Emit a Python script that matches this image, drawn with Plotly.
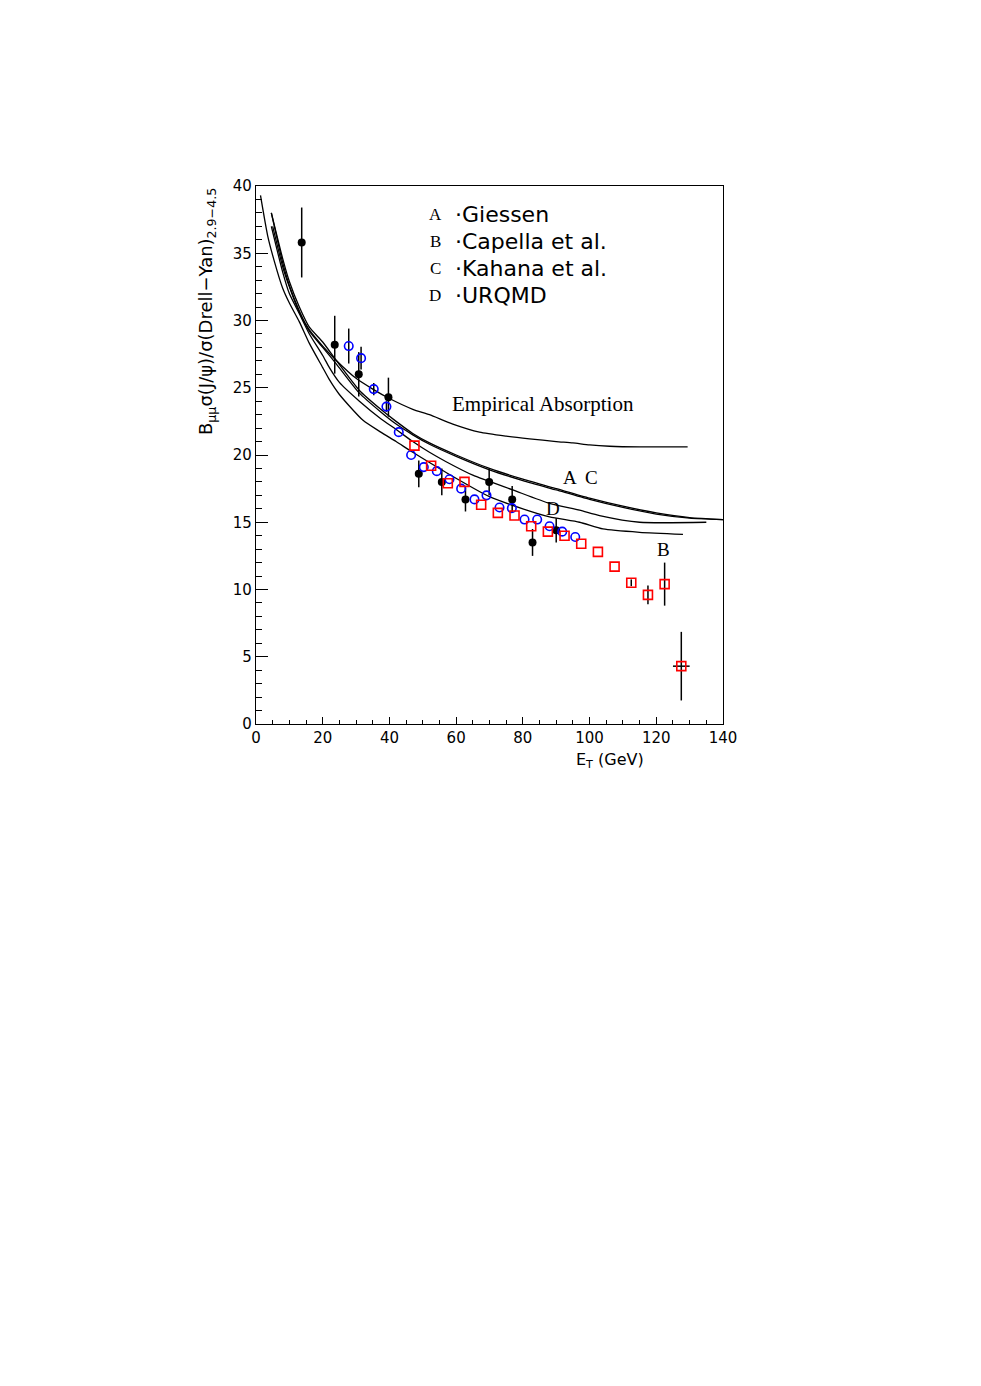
import plotly.graph_objects as go

# ---------------- data ----------------
black_x = [13.7, 23.6, 30.8, 39.7, 48.8, 55.7, 62.8, 69.9, 76.8, 82.9, 90.0]
black_y = [35.8, 28.2, 26.0, 24.3, 18.6, 18.0, 16.7, 18.0, 16.7, 13.5, 14.4]
black_err = [2.6, 2.15, 1.65, 1.45, 1.0, 1.0, 0.9, 1.0, 1.0, 1.0, 0.9]

blue_x = [27.8, 31.5, 35.3, 39.1, 42.8, 46.5, 50.3, 54.2, 58.0, 61.5, 65.5, 69.1,
          73.0, 76.7, 80.5, 84.3, 88.0, 91.8, 95.7]
blue_y = [28.1, 27.2, 24.9, 23.6, 21.7, 20.0, 19.1, 18.8, 18.2, 17.5, 16.7, 17.0,
          16.1, 16.05, 15.2, 15.2, 14.7, 14.3, 13.9]
blue_err = [1.3, 0.85, 0.45, 0.4, 0, 0, 0, 0, 0, 0, 0, 0,
            0, 0, 0, 0, 0, 0, 0]

red_x = [47.5, 52.5, 57.5, 62.5, 67.5, 72.5, 77.5, 82.5, 87.5, 92.5, 97.5, 102.5,
         107.5, 112.5, 117.5, 122.5, 127.5]
red_y = [20.7, 19.2, 17.9, 18.0, 16.3, 15.7, 15.5, 14.7, 14.3, 14.0, 13.4, 12.8,
         11.7, 10.5, 9.6, 10.4, 4.3]
red_err = [0, 0, 0, 0, 0, 0, 0, 0, 0, 0, 0, 0,
           0, 0.25, 0.7, 1.6, 2.55]
red_xerr = [0, 0, 0, 0, 0, 0, 0, 0, 0, 0, 0, 0, 0, 0, 0, 0, 2.5]

emp_x = [5, 8, 10, 13, 16, 20, 24, 30, 35, 40, 47, 52, 59, 67, 75, 82, 90, 95, 100, 106, 115, 129.4]
emp_y = [37.0, 34.0, 32.5, 30.6, 29.3, 28.1, 27.05, 25.7, 24.9, 24.2, 23.4, 23.0, 22.3, 21.7,
         21.4, 21.2, 21.0, 20.9, 20.75, 20.65, 20.6, 20.6]

a_x = [4.6, 8, 10, 13, 16, 20, 24, 31, 37.4, 42, 47, 52, 60, 70, 80, 90, 100, 110, 120, 130, 140]
a_y = [38.0, 34.6, 32.9, 31.0, 29.5, 28.4, 27.05, 24.8, 23.4, 22.5, 21.6, 20.9, 20.0, 19.0,
       18.2, 17.5, 16.8, 16.2, 15.7, 15.35, 15.2]

c_x = [4.6, 8, 10, 13, 16, 20, 24, 31, 37.4, 42, 47, 52, 60, 70, 80, 90, 100, 110, 120, 130, 140]
c_y = [38.0, 34.3, 32.6, 30.7, 29.2, 28.0, 26.8, 24.6, 23.2, 22.3, 21.5, 20.8, 19.9, 18.9,
       18.1, 17.4, 16.7, 16.1, 15.6, 15.3, 15.2]

d_x = [4.6, 8, 10, 13, 16, 20, 22, 25, 31, 37.4, 42, 47, 52, 57, 65, 77, 88, 97, 103, 115, 135]
d_y = [37.0, 33.6, 32.0, 30.5, 29.0, 27.4, 26.5, 25.4, 24.0, 22.7, 21.9, 21.0, 20.2, 19.5,
       18.5, 17.4, 16.4, 15.9, 15.5, 15.0, 15.0]

b_x = [1.35, 3.5, 5.5, 8, 10, 13, 16, 20, 22, 25, 32, 37.4, 42, 47, 57, 70, 80, 88, 97, 104, 115, 128]
b_y = [39.3, 36.3, 34.4, 32.4, 31.3, 29.9, 28.3, 26.5, 25.6, 24.5, 22.6, 21.7, 21.0, 20.2,
       18.7, 16.9, 16.0, 15.4, 15.0, 14.5, 14.25, 14.1]

legend_letters = ["A", "B", "C", "D"]
legend_names = ["·Giessen", "·Capella et al.", "·Kahana et al.", "·URQMD"]

x_ticks = [0, 20, 40, 60, 80, 100, 120, 140]
y_ticks = [0, 5, 10, 15, 20, 25, 30, 35, 40]

# ---------------- figure ----------------
fig = go.Figure()

for cx, cy in [(emp_x, emp_y), (a_x, a_y), (c_x, c_y), (d_x, d_y), (b_x, b_y)]:
    fig.add_trace(go.Scatter(x=cx, y=cy, mode="lines",
                             line=dict(color="black", width=1.3, shape="spline", smoothing=0.6),
                             hoverinfo="skip", showlegend=False))

fig.add_trace(go.Scatter(
    x=black_x, y=black_y, mode="markers",
    marker=dict(symbol="circle", size=8, color="black"),
    error_y=dict(type="data", array=black_err, color="black", thickness=1.5, width=0),
    showlegend=False))

fig.add_trace(go.Scatter(
    x=blue_x, y=blue_y, mode="markers",
    marker=dict(symbol="circle-open", size=8.5, color="#0000ff", line=dict(width=1.6, color="#0000ff")),
    error_y=dict(type="data", array=blue_err, color="black", thickness=1.5, width=0),
    showlegend=False))

fig.add_trace(go.Scatter(
    x=red_x, y=red_y, mode="markers",
    marker=dict(symbol="square-open", size=9, color="#ff0000", line=dict(width=1.6, color="#ff0000")),
    error_y=dict(type="data", array=red_err, color="black", thickness=1.5, width=0),
    error_x=dict(type="data", array=red_xerr, color="black", thickness=1.5, width=0),
    showlegend=False))

# legend text
legend_rows_y = [37.9, 35.85, 33.85, 31.85]
for letter, name, yy in zip(legend_letters, legend_names, legend_rows_y):
    fig.add_annotation(x=53.8, y=yy, xref="x", yref="y", text=letter, showarrow=False,
                       xanchor="center", yanchor="middle",
                       font=dict(family="Liberation Serif", size=17, color="black"))
    fig.add_annotation(x=59.0, y=yy, xref="x", yref="y", text=name, showarrow=False,
                       xanchor="left", yanchor="middle",
                       font=dict(family="DejaVu Sans", size=22, color="black"))

fig.add_annotation(x=86.0, y=23.8, xref="x", yref="y", text="Empirical Absorption",
                   showarrow=False, xanchor="center", yanchor="middle",
                   font=dict(family="Liberation Serif", size=21, color="black"))
for txt, xx, yy in [("A", 94.0, 18.3), ("C", 100.5, 18.3), ("D", 89.0, 16.0), ("B", 122.2, 13.0)]:
    fig.add_annotation(x=xx, y=yy, xref="x", yref="y", text=txt, showarrow=False,
                       xanchor="center", yanchor="middle",
                       font=dict(family="Liberation Serif", size=19, color="black"))

# axis titles
fig.add_annotation(x=106.0, y=-0.045, xref="x", yref="paper",
                   text="E<sub>T</sub> (GeV)", showarrow=False,
                   xanchor="center", yanchor="top",
                   font=dict(family="DejaVu Sans", size=16, color="black"))
fig.add_annotation(x=-0.106, y=1.0, xref="paper", yref="paper",
                   text="B<sub>μμ</sub>σ(J/ψ)/σ(Drell−Yan)<sub>2.9−4.5</sub>",
                   showarrow=False, textangle=-90, xanchor="center", yanchor="top",
                   font=dict(family="DejaVu Sans", size=18, color="black"))

axis_common = dict(showgrid=False, zeroline=False, showline=True, linecolor="black",
                   linewidth=1.2, mirror=True, ticks="inside", tickcolor="black",
                   tickwidth=1.2, tickfont=dict(family="DejaVu Sans", size=15, color="black"))

fig.update_xaxes(range=[0, 140], tickvals=x_ticks, ticklen=7,
                 minor=dict(dtick=5, ticklen=4, ticks="inside", tickcolor="black", tickwidth=1),
                 **axis_common)
fig.update_yaxes(range=[0, 40], tickvals=y_ticks, ticklen=12,
                 minor=dict(dtick=1, ticklen=6, ticks="inside", tickcolor="black", tickwidth=1),
                 **axis_common)

fig.update_layout(width=965, height=1370, plot_bgcolor="white", paper_bgcolor="white",
                  margin=dict(l=248, r=250, t=178, b=654, autoexpand=False),
                  showlegend=False)

fig.write_html("out.html")
